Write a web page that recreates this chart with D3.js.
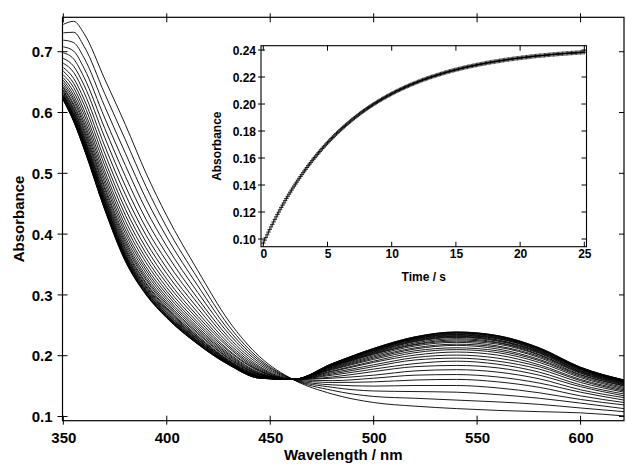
<!DOCTYPE html>
<html><head><meta charset="utf-8">
<script src="https://cdn.jsdelivr.net/npm/d3@7"></script>
<style>
html,body{margin:0;padding:0;background:#fff;}
svg{display:block;font-family:"Liberation Sans",Arial,Helvetica,sans-serif;font-weight:bold;}
</style></head>
<body>
<svg id="chart" width="626" height="464"></svg>
<script>
// ---- main chart data: spectra recorded during the reaction ----
const wavelengths = [350,355,360,370,380,390,400,415,430,445,461,480,500,520,540,560,580,600,621];
// one row per wavelength, one column per recorded spectrum (first = t 0, last = end)
const absorbanceAtWavelength = [
 [.745,.731,.719,.708,.698,.689,.681,.674,.668,.662,.657,.653,.649,.645,.642,.640,.637,.635,.633,.631,.629,.628,.627,.626,.625,.624,.623,.622,.622,.621,.621,.620],
 [.750,.732,.715,.701,.688,.676,.666,.656,.648,.641,.634,.628,.623,.619,.614,.611,.607,.605,.602,.600,.597,.596,.594,.592,.591,.590,.589,.588,.587,.586,.586,.585],
 [.730,.709,.690,.673,.658,.645,.633,.622,.613,.604,.597,.590,.584,.579,.574,.570,.566,.562,.559,.557,.554,.552,.550,.549,.547,.546,.544,.543,.542,.542,.541,.540],
 [.655,.631,.610,.591,.574,.559,.545,.533,.522,.513,.504,.497,.490,.484,.478,.474,.469,.465,.462,.459,.456,.454,.452,.450,.448,.446,.445,.444,.443,.442,.441,.440],
 [.580,.555,.533,.513,.495,.479,.465,.452,.441,.431,.422,.414,.407,.401,.395,.390,.386,.382,.378,.375,.372,.369,.367,.365,.363,.362,.360,.359,.358,.357,.356,.355],
 [.500,.478,.458,.440,.424,.410,.398,.387,.377,.368,.360,.353,.346,.341,.336,.331,.327,.324,.320,.318,.315,.313,.311,.309,.307,.306,.305,.303,.302,.302,.301,.300],
 [.430,.411,.395,.380,.367,.355,.344,.335,.326,.319,.312,.306,.301,.296,.292,.288,.285,.282,.279,.277,.275,.273,.271,.270,.268,.267,.266,.265,.264,.263,.263,.262],
 [.340,.327,.315,.304,.294,.286,.278,.271,.265,.260,.255,.251,.247,.244,.241,.238,.236,.233,.231,.230,.228,.227,.226,.224,.224,.223,.222,.221,.220,.220,.219,.219],
 [.257,.249,.242,.236,.230,.225,.220,.216,.213,.209,.207,.204,.202,.200,.198,.196,.195,.193,.192,.191,.190,.190,.189,.188,.188,.187,.187,.186,.186,.186,.185,.185],
 [.198,.194,.191,.188,.185,.182,.180,.178,.176,.175,.174,.172,.171,.170,.169,.169,.168,.167,.167,.166,.166,.165,.165,.165,.164,.164,.164,.164,.163,.163,.163,.163],
 [.161,.161,.161,.161,.161,.161,.161,.161,.161,.161,.161,.161,.161,.161,.161,.161,.161,.161,.161,.161,.161,.161,.161,.161,.161,.161,.161,.161,.161,.161,.161,.161],
 [.137,.143,.148,.152,.156,.159,.163,.165,.168,.170,.172,.174,.175,.177,.178,.179,.180,.181,.182,.183,.183,.184,.184,.185,.185,.186,.186,.186,.186,.187,.187,.187],
 [.123,.133,.142,.150,.157,.163,.168,.174,.178,.182,.185,.189,.191,.194,.196,.198,.200,.202,.203,.204,.205,.206,.207,.208,.209,.209,.210,.211,.211,.211,.212,.212],
 [.117,.130,.141,.151,.160,.168,.175,.182,.187,.193,.197,.201,.205,.208,.211,.213,.216,.218,.219,.221,.223,.224,.225,.226,.227,.228,.228,.229,.230,.230,.231,.231],
 [.113,.127,.140,.151,.161,.169,.177,.184,.191,.196,.201,.206,.210,.213,.217,.219,.222,.224,.226,.228,.230,.231,.232,.233,.234,.235,.236,.237,.238,.238,.239,.239],
 [.110,.124,.136,.147,.157,.165,.173,.180,.186,.191,.196,.201,.205,.208,.211,.214,.216,.219,.221,.222,.224,.225,.226,.228,.228,.229,.230,.231,.232,.232,.233,.233],
 [.108,.120,.130,.139,.148,.155,.162,.168,.173,.178,.182,.185,.189,.192,.194,.197,.199,.201,.202,.204,.205,.206,.207,.208,.209,.210,.211,.211,.212,.212,.213,.213],
 [.106,.114,.122,.128,.134,.140,.144,.149,.152,.156,.159,.161,.164,.166,.168,.169,.171,.172,.173,.174,.175,.176,.177,.178,.178,.179,.179,.180,.180,.180,.181,.181],
 [.101,.108,.113,.119,.123,.127,.131,.134,.137,.140,.142,.144,.146,.148,.150,.151,.152,.153,.154,.155,.156,.156,.157,.157,.158,.158,.159,.159,.159,.160,.160,.160]
];
const xTicks = [350,400,450,500,550,600];
const yTicks = [0.1,0.2,0.3,0.4,0.5,0.6,0.7];

// ---- inset data: kinetic trace, one sample every 0.1 s from t = 0 ----
const kineticStart = 0, kineticStep = 0.1;
const kineticAbsorbance = [
 .0970,.0991,.1011,.1031,.1051,.1070,.1090,.1108,.1127,.1145,
 .1164,.1182,.1199,.1217,.1234,.1251,.1267,.1284,.1300,.1316,
 .1332,.1347,.1362,.1378,.1392,.1407,.1421,.1436,.1450,.1464,
 .1477,.1491,.1504,.1517,.1530,.1543,.1555,.1567,.1580,.1592,
 .1603,.1615,.1627,.1638,.1649,.1660,.1671,.1682,.1692,.1703,
 .1713,.1723,.1733,.1743,.1752,.1762,.1771,.1781,.1790,.1799,
 .1808,.1816,.1825,.1833,.1842,.1850,.1858,.1866,.1874,.1882,
 .1890,.1897,.1905,.1912,.1919,.1927,.1934,.1941,.1948,.1954,
 .1961,.1968,.1974,.1980,.1987,.1993,.1999,.2005,.2011,.2017,
 .2023,.2028,.2034,.2040,.2045,.2050,.2056,.2061,.2066,.2071,
 .2076,.2081,.2086,.2091,.2096,.2100,.2105,.2109,.2114,.2118,
 .2123,.2127,.2131,.2135,.2140,.2144,.2148,.2151,.2155,.2159,
 .2163,.2167,.2170,.2174,.2178,.2181,.2184,.2188,.2191,.2195,
 .2198,.2201,.2204,.2207,.2210,.2213,.2216,.2219,.2222,.2225,
 .2228,.2231,.2234,.2236,.2239,.2242,.2244,.2247,.2249,.2252,
 .2254,.2257,.2259,.2261,.2264,.2266,.2268,.2271,.2273,.2275,
 .2277,.2279,.2281,.2283,.2285,.2287,.2289,.2291,.2293,.2295,
 .2297,.2298,.2300,.2302,.2304,.2306,.2307,.2309,.2311,.2312,
 .2314,.2315,.2317,.2318,.2320,.2321,.2323,.2324,.2326,.2327,
 .2329,.2330,.2331,.2333,.2334,.2335,.2337,.2338,.2339,.2340,
 .2341,.2343,.2344,.2345,.2346,.2347,.2348,.2349,.2351,.2352,
 .2353,.2354,.2355,.2356,.2357,.2358,.2359,.2359,.2360,.2361,
 .2362,.2363,.2364,.2365,.2366,.2367,.2367,.2368,.2369,.2370,
 .2371,.2371,.2372,.2373,.2374,.2374,.2375,.2376,.2376,.2377,
 .2378,.2378,.2379,.2380,.2380,.2381,.2382,.2382,.2383,.2384,
 .2384
];
const insetXTicks = [0,5,10,15,20,25];
const insetYTicks = [0.10,0.12,0.14,0.16,0.18,0.20,0.22,0.24];

const svg = d3.select("#chart");

// ===== main plot =====
const L = 62.5, R = 624, T = 17.3, B = 420.7;
const x = d3.scaleLinear().domain([349.6, 621]).range([L, R]);
const y = d3.scaleLinear().domain([0.0931, 0.7566]).range([B, T]);

svg.append("defs").append("clipPath").attr("id","clipMain")
  .append("rect").attr("x",L).attr("y",T).attr("width",R-L).attr("height",B-T);

const spectra = d3.transpose(absorbanceAtWavelength);
const line = d3.line().x((d,i)=>x(wavelengths[i])).y(d=>y(d)).curve(d3.curveMonotoneX);
svg.append("g").attr("clip-path","url(#clipMain)")
  .selectAll("path").data(spectra).join("path")
  .attr("d", line).attr("fill","none").attr("stroke","#000").attr("stroke-width",0.9);

// frame
svg.append("rect").attr("x",L).attr("y",T).attr("width",R-L).attr("height",B-T)
  .attr("fill","none").attr("stroke","#000").attr("stroke-width",1.2);

// axes
const bottom = svg.append("g").attr("transform",`translate(0,${B})`)
  .call(d3.axisBottom(x).tickValues(xTicks).tickSize(0).tickPadding(12).tickFormat(d3.format("d")));
const left = svg.append("g").attr("transform",`translate(${L},0)`)
  .call(d3.axisLeft(y).tickValues(yTicks).tickSize(0).tickPadding(10).tickFormat(d3.format(".1f")));
[bottom,left].forEach(g=>{
  g.select(".domain").remove();
  g.selectAll("text").attr("font-size",15).attr("font-weight","bold").attr("fill","#000")
    .attr("font-family",'"Liberation Sans",Arial,sans-serif');
});
left.selectAll("text").attr("dy","0.35em");
// tick marks crossing the axes
svg.append("g").selectAll("line").data(xTicks).join("line")
  .attr("x1",d=>x(d)).attr("x2",d=>x(d)).attr("y1",B-5).attr("y2",B+4).attr("stroke","#000");
svg.append("g").selectAll("line").data(xTicks).join("line")
  .attr("x1",d=>x(d)).attr("x2",d=>x(d)).attr("y1",T-4).attr("y2",T+5).attr("stroke","#000");
svg.append("g").selectAll("line").data(yTicks).join("line")
  .attr("x1",L-5).attr("x2",L+5).attr("y1",d=>y(d)).attr("y2",d=>y(d)).attr("stroke","#000");
svg.append("g").selectAll("line").data(yTicks).join("line")
  .attr("x1",R-5).attr("x2",R).attr("y1",d=>y(d)).attr("y2",d=>y(d)).attr("stroke","#000");

svg.append("text").attr("x",(L+R)/2).attr("y",460).attr("text-anchor","middle")
  .attr("font-size",15).text("Wavelength / nm");
svg.append("text").attr("transform",`translate(24,${(T+B)/2}) rotate(-90)`)
  .attr("text-anchor","middle").attr("font-size",15).text("Absorbance");

// ===== inset =====
const iL = 261, iR = 586.5, iT = 45.7, iB = 246.7;
const ix = d3.scaleLinear().domain([-0.18, 25.17]).range([iL, iR]);
const iy = d3.scaleLinear().domain([0.0943, 0.2432]).range([iB, iT]);

svg.append("rect").attr("x",iL).attr("y",iT).attr("width",iR-iL).attr("height",iB-iT)
  .attr("fill","#fff").attr("stroke","none");

const pts = kineticAbsorbance.map((a,i)=>({t: kineticStart + i*kineticStep, a}));
const s = 2.2;
svg.append("g").selectAll("path").data(pts).join("path")
  .attr("d", d=>`M${ix(d.t)-s},${iy(d.a)}H${ix(d.t)+s}M${ix(d.t)},${iy(d.a)-s}V${iy(d.a)+s}`)
  .attr("stroke","#000").attr("stroke-width",0.8).attr("fill","none");

svg.append("rect").attr("x",iL).attr("y",iT).attr("width",iR-iL).attr("height",iB-iT)
  .attr("fill","none").attr("stroke","#000").attr("stroke-width",1.1);

const ib = svg.append("g").attr("transform",`translate(0,${iB})`)
  .call(d3.axisBottom(ix).tickValues(insetXTicks).tickSize(0).tickPadding(3).tickFormat(d3.format("d")));
const il = svg.append("g").attr("transform",`translate(${iL},0)`)
  .call(d3.axisLeft(iy).tickValues(insetYTicks).tickSize(0).tickPadding(5).tickFormat(d3.format(".2f")));
[ib,il].forEach(g=>{
  g.select(".domain").remove();
  g.selectAll("text").attr("font-size",12).attr("font-weight","bold").attr("fill","#000")
    .attr("font-family",'"Liberation Sans",Arial,sans-serif');
});
il.selectAll("text").attr("dy","0.35em");
svg.append("g").selectAll("line").data(insetXTicks).join("line")
  .attr("x1",d=>ix(d)).attr("x2",d=>ix(d)).attr("y1",iB-5).attr("y2",iB).attr("stroke","#000");
svg.append("g").selectAll("line").data(insetXTicks).join("line")
  .attr("x1",d=>ix(d)).attr("x2",d=>ix(d)).attr("y1",iT).attr("y2",iT+5).attr("stroke","#000");
svg.append("g").selectAll("line").data(insetYTicks).join("line")
  .attr("x1",iL-3).attr("x2",iL+4).attr("y1",d=>iy(d)).attr("y2",d=>iy(d)).attr("stroke","#000");
svg.append("g").selectAll("line").data(insetYTicks).join("line")
  .attr("x1",iR-5).attr("x2",iR).attr("y1",d=>iy(d)).attr("y2",d=>iy(d)).attr("stroke","#000");

svg.append("text").attr("x",(iL+iR)/2).attr("y",281).attr("text-anchor","middle")
  .attr("font-size",12).text("Time / s");
svg.append("text").attr("transform",`translate(221,${(iT+iB)/2}) rotate(-90)`)
  .attr("text-anchor","middle").attr("font-size",12).text("Absorbance");
</script>
</body></html>
